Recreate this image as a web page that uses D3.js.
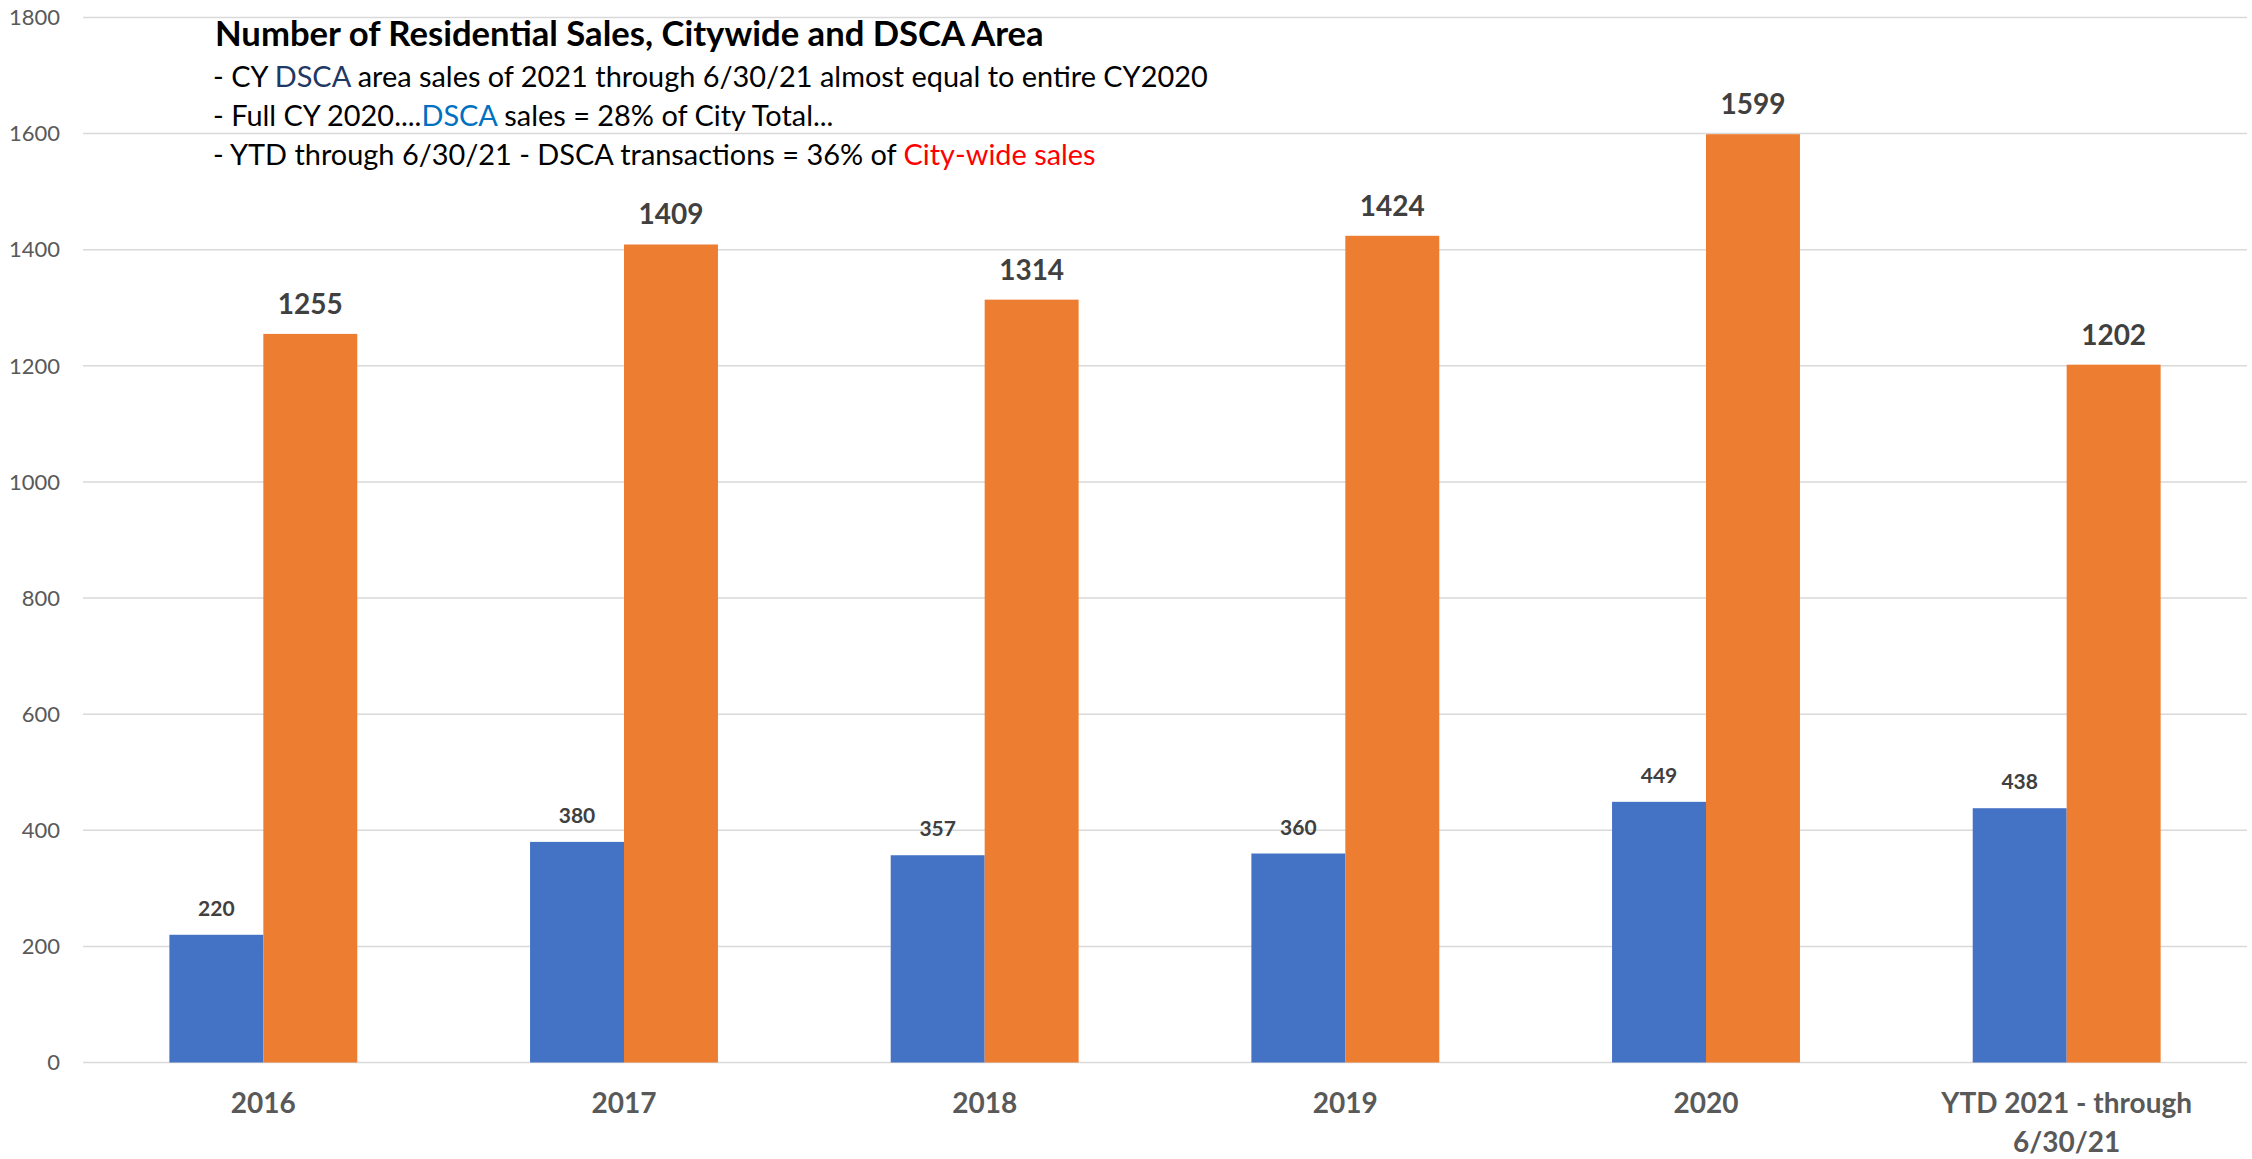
<!DOCTYPE html>
<html><head><meta charset="utf-8">
<script src="https://cdn.jsdelivr.net/npm/d3@7"></script>
<style>html,body{margin:0;padding:0;background:#fff;}svg{display:block;}</style>
</head><body>
<script>
const categories = ["2016","2017","2018","2019","2020","YTD 2021 - through 6/30/21"];
const dscaValues = [220,380,357,360,449,438];
const cityValues = [1255,1409,1314,1424,1599,1202];
const yTicks = [0,200,400,600,800,1000,1200,1400,1600,1800];
const titleText = "Number of Residential Sales, Citywide and DSCA Area";
const noteLines = [
  [["- CY ","#000"],["DSCA","#1F3864"],[" area sales of 2021 through 6/30/21 almost equal to entire CY2020","#000"]],
  [["- Full CY 2020....","#000"],["DSCA","#0070C0"],[" sales = 28% of City Total...","#000"]],
  [["- YTD through 6/30/21 - DSCA transactions = 36% of ","#000"],["City-wide sales","#FF0000"]]
];

const W=2252,H=1159;
const FONT="Lato, 'Open Sans', sans-serif";
const svg=d3.select("body").append("svg").attr("width",W).attr("height",H);
const x0=83,x1=2247,yTop=17.5,yBot=1062.5;
const y=d3.scaleLinear().domain([0,1800]).range([yBot,yTop]);
const x=d3.scaleBand().domain(categories).range([x0,x1]).paddingInner(0.479).paddingOuter(0.2395);
const xs=d3.scaleBand().domain(["dsca","city"]).range([0,x.bandwidth()]);

svg.append("g").selectAll("line").data(yTicks).join("line")
  .attr("x1",x0).attr("x2",x1).attr("y1",d=>y(d)).attr("y2",d=>y(d))
  .attr("stroke","#d9d9d9").attr("stroke-width",1.5);

svg.append("g").selectAll("text").data(yTicks).join("text")
  .attr("x",60).attr("y",d=>y(d)).attr("dy","0.35em").attr("text-anchor","end")
  .attr("font-family",FONT).attr("font-size",22).attr("fill","#595959").text(d=>d);

const groups=svg.append("g").selectAll("g").data(categories).join("g")
  .attr("transform",d=>`translate(${x(d)},0)`);
groups.append("rect").attr("x",xs("dsca")).attr("width",xs.bandwidth())
  .attr("y",(d,i)=>y(dscaValues[i])).attr("height",(d,i)=>y(0)-y(dscaValues[i])).attr("fill","#4472C4");
groups.append("rect").attr("x",xs("city")).attr("width",xs.bandwidth())
  .attr("y",(d,i)=>y(cityValues[i])).attr("height",(d,i)=>y(0)-y(cityValues[i])).attr("fill","#ED7D31");
groups.append("text").attr("x",xs("dsca")+xs.bandwidth()/2).attr("y",(d,i)=>y(dscaValues[i])-19)
  .attr("text-anchor","middle").attr("font-family",FONT).attr("font-weight","bold").attr("font-size",21)
  .attr("fill","#404040").text((d,i)=>dscaValues[i]);
groups.append("text").attr("x",xs("city")+xs.bandwidth()/2).attr("y",(d,i)=>y(cityValues[i])-20)
  .attr("text-anchor","middle").attr("font-family",FONT).attr("font-weight","bold").attr("font-size",28)
  .attr("fill","#404040").text((d,i)=>cityValues[i]);

const xl=svg.append("g").selectAll("text").data(categories).join("text")
  .attr("x",d=>x(d)+x.bandwidth()/2).attr("y",1113).attr("text-anchor","middle")
  .attr("font-family",FONT).attr("font-weight","bold").attr("font-size",28).attr("fill","#595959");
xl.each(function(d){
  const t=d3.select(this);
  if(d.startsWith("YTD")){
    t.append("tspan").attr("x",x(d)+x.bandwidth()/2).attr("dy",0).text("YTD 2021 - through");
    t.append("tspan").attr("x",x(d)+x.bandwidth()/2).attr("dy",39).text("6/30/21");
  } else t.text(d);
});

// title + notes, font size fitted to the reference text widths
function fit(t,target){
  const w=t.node().getComputedTextLength();
  const fs=+t.attr("font-size");
  t.attr("font-size",fs*target/w);
}
const title=svg.append("text").attr("x",215).attr("y",46).attr("font-family",FONT).attr("font-weight","bold")
  .attr("font-size",30).attr("fill","#000").text(titleText);
fit(title,829);
const baselines=[87,126,165];
const noteEls=noteLines.map((parts,i)=>{
  const t=svg.append("text").attr("x",213).attr("y",baselines[i]).attr("font-family",FONT).attr("font-size",25);
  parts.forEach(p=>t.append("tspan").attr("fill",p[1]).text(p[0]));
  return t;
});
const w0=noteEls[0].node().getComputedTextLength();
const fsN=25*995/w0;
noteEls.forEach(t=>t.attr("font-size",fsN));
</script>
</body></html>
